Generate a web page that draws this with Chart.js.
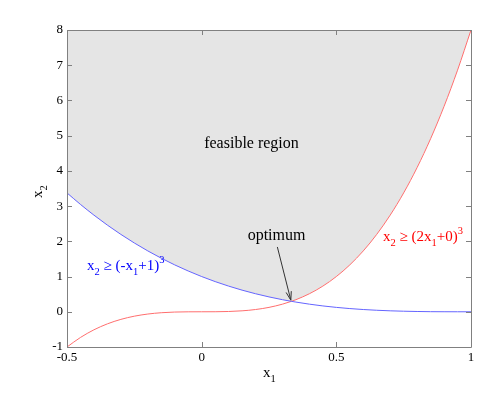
<!DOCTYPE html>
<html lang="en">
<head>
    <meta charset="UTF-8">
    <title>Feasible region</title>
    <script src="https://cdn.jsdelivr.net/npm/chart.js"></script>
    <style>
        body { margin: 0; background: #fff; }
        #wrap { width: 504px; height: 396px; }
    </style>
</head>
<body>
    <div id="wrap"><canvas id="chart" width="504" height="396"></canvas></div>
    <script>
        // values
        const x1 = [-0.5, -0.45, -0.4, -0.35, -0.3, -0.25, -0.2, -0.15, -0.1, -0.05, 0,
            0.05, 0.1, 0.15, 0.2, 0.25, 0.3, 0.333, 0.35, 0.4, 0.45, 0.5,
            0.55, 0.6, 0.65, 0.7, 0.75, 0.8, 0.85, 0.9, 0.95, 1];
        const blueBound = [3.375, 3.048, 2.744, 2.46, 2.197, 1.953, 1.728, 1.521, 1.331, 1.158, 1,
            0.857, 0.729, 0.614, 0.512, 0.422, 0.343, 0.297, 0.275, 0.216, 0.166, 0.125,
            0.091, 0.064, 0.043, 0.027, 0.016, 0.008, 0.003, 0.001, 0.0001, 0];
        const redBound = [-1, -0.729, -0.512, -0.343, -0.216, -0.125, -0.064, -0.027, -0.008, -0.001, 0,
            0.001, 0.008, 0.027, 0.064, 0.125, 0.216, 0.296, 0.343, 0.512, 0.729, 1,
            1.331, 1.728, 2.197, 2.744, 3.375, 4.096, 4.913, 5.832, 6.859, 8];
        const xTicks = [-0.5, 0, 0.5, 1];
        const xTickLabels = ['-0.5', '0', '0.5', '1'];
        const yTicks = [-1, 0, 1, 2, 3, 4, 5, 6, 7, 8];

        const pts = (ys) => x1.map((x, i) => ({ x: x, y: ys[i] }));
        const region = x1.map((x, i) => ({ x: x, y: Math.max(blueBound[i], redBound[i]) }));

        const serif = "'Liberation Serif', 'DejaVu Serif', serif";

        function drawRich(ctx, parts, x, y, size, color) {
            ctx.fillStyle = color;
            ctx.textAlign = 'left';
            ctx.textBaseline = 'alphabetic';
            parts.forEach(p => {
                let s = size, dy = 0;
                if (p[1] === 'sub') { s = size * 0.7; dy = size * 0.35; }
                if (p[1] === 'sup') { s = size * 0.7; dy = -size * 0.45; }
                ctx.font = s + 'px ' + serif;
                ctx.fillText(p[0], x, y + dy);
                x += ctx.measureText(p[0]).width;
            });
        }

        const decor = {
            id: 'decor',
            afterDraw(chart) {
                const ctx = chart.ctx;
                const a = chart.chartArea;
                const xs = chart.scales.x, ys = chart.scales.y;
                ctx.save();
                // box and inward ticks
                ctx.strokeStyle = '#808080';
                ctx.lineWidth = 1;
                ctx.beginPath();
                ctx.rect(Math.round(a.left) + 0.5, Math.round(a.top) + 0.5,
                    Math.round(a.right - a.left), Math.round(a.bottom - a.top));
                xTicks.forEach(v => {
                    const px = Math.round(xs.getPixelForValue(v)) + 0.5;
                    ctx.moveTo(px, a.bottom); ctx.lineTo(px, a.bottom - 5);
                    ctx.moveTo(px, a.top); ctx.lineTo(px, a.top + 5);
                });
                yTicks.forEach(v => {
                    const py = Math.round(ys.getPixelForValue(v)) + 0.5;
                    ctx.moveTo(a.left, py); ctx.lineTo(a.left + 5, py);
                    ctx.moveTo(a.right, py); ctx.lineTo(a.right - 5, py);
                });
                ctx.stroke();

                // axis titles
                drawRich(ctx, [['x', 'n'], ['1', 'sub']], 263, 377, 15, '#000');
                ctx.save();
                ctx.translate(42, 198);
                ctx.rotate(-Math.PI / 2);
                drawRich(ctx, [['x', 'n'], ['2', 'sub']], 0, 0, 15, '#000');
                ctx.restore();

                // annotations
                ctx.font = '16px ' + serif;
                ctx.fillStyle = '#000';
                ctx.textAlign = 'center';
                ctx.fillText('feasible region', xs.getPixelForValue(0.185), ys.getPixelForValue(4.65));
                ctx.fillText('optimum', xs.getPixelForValue(0.278), ys.getPixelForValue(2.05));

                const sx = xs.getPixelForValue(0.281), sy = ys.getPixelForValue(1.84);
                const tx = xs.getPixelForValue(0.331), ty = ys.getPixelForValue(0.33);
                const ang = Math.atan2(ty - sy, tx - sx);
                ctx.strokeStyle = '#333';
                ctx.beginPath();
                ctx.moveTo(sx, sy); ctx.lineTo(tx, ty);
                ctx.moveTo(tx - 9 * Math.cos(ang - 0.3), ty - 9 * Math.sin(ang - 0.3));
                ctx.lineTo(tx, ty);
                ctx.lineTo(tx - 9 * Math.cos(ang + 0.3), ty - 9 * Math.sin(ang + 0.3));
                ctx.stroke();

                drawRich(ctx, [['x', 'n'], ['2', 'sub'], [' \u2265 (-x', 'n'], ['1', 'sub'], ['+1)', 'n'], ['3', 'sup']],
                    87, 270, 15, '#0000ff');
                drawRich(ctx, [['x', 'n'], ['2', 'sub'], [' \u2265 (2x', 'n'], ['1', 'sub'], ['+0)', 'n'], ['3', 'sup']],
                    383, 241, 15, '#ff0000');
                ctx.restore();
            }
        };

        new Chart(document.getElementById('chart'), {
            type: 'scatter',
            data: {
                datasets: [{
                    data: pts(blueBound),
                    showLine: true,
                    borderColor: 'rgb(100,100,255)',
                    borderWidth: 1,
                    pointRadius: 0,
                    cubicInterpolationMode: 'monotone',
                    order: 1
                }, {
                    data: pts(redBound),
                    showLine: true,
                    borderColor: 'rgb(255,110,110)',
                    borderWidth: 1,
                    pointRadius: 0,
                    cubicInterpolationMode: 'monotone',
                    order: 1
                }, {
                    data: region,
                    showLine: true,
                    borderWidth: 0,
                    borderColor: 'rgba(0,0,0,0)',
                    backgroundColor: '#e5e5e5',
                    pointRadius: 0,
                    fill: 'end',
                    order: 2
                }]
            },
            options: {
                responsive: false,
                animation: false,
                layout: { padding: { left: 0, top: 30, right: 33, bottom: 0 } },
                plugins: { legend: { display: false }, tooltip: { enabled: false } },
                scales: {
                    x: {
                        type: 'linear', min: -0.5, max: 1,
                        afterBuildTicks: s => { s.ticks = xTicks.map(v => ({ value: v })); },
                        afterFit: s => { s.height = 49; },
                        grid: { display: false, drawTicks: false },
                        border: { display: false },
                        ticks: {
                            padding: 3, color: '#000', font: { family: serif, size: 13 }, maxRotation: 0,
                            callback: v => xTickLabels[xTicks.indexOf(v)]
                        }
                    },
                    y: {
                        min: -1, max: 8,
                        afterBuildTicks: s => { s.ticks = yTicks.map(v => ({ value: v })); },
                        afterFit: s => { s.width = 67; },
                        grid: { display: false, drawTicks: false },
                        border: { display: false },
                        ticks: { padding: 4, color: '#000', font: { family: serif, size: 13 } }
                    }
                }
            },
            plugins: [decor]
        });
    </script>
</body>
</html>
